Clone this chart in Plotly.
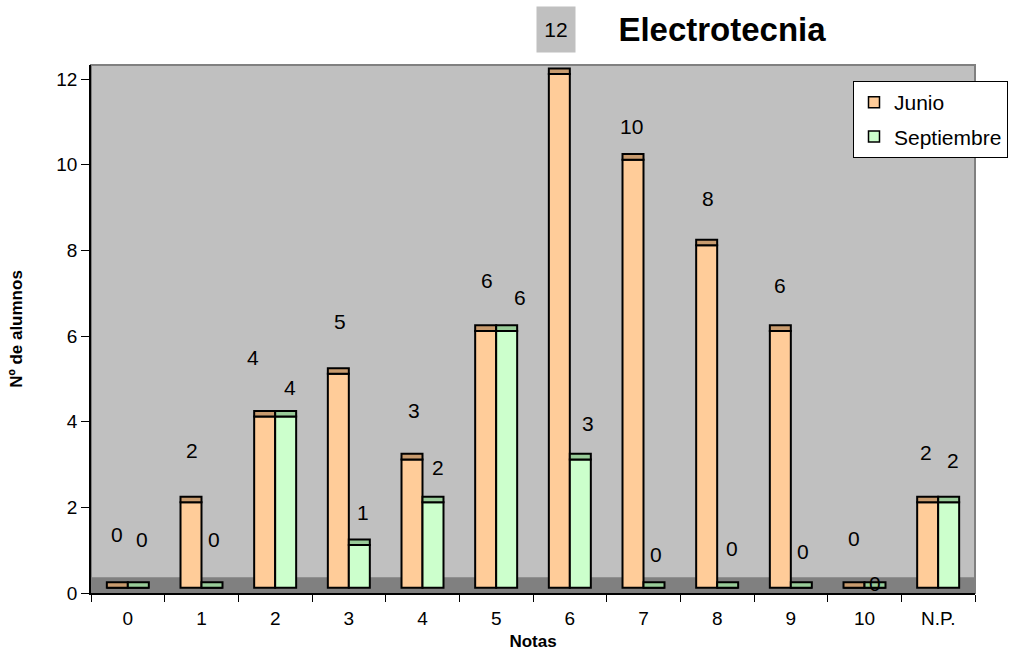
import plotly.graph_objects as go

# ---------------- data ----------------
categories = ["0", "1", "2", "3", "4", "5", "6", "7", "8", "9", "10", "N.P."]
junio = [0, 2, 4, 5, 3, 6, 12, 10, 8, 6, 0, 2]
septiembre = [0, 0, 4, 1, 2, 6, 3, 0, 0, 0, 0, 2]
y_ticks = [0, 2, 4, 6, 8, 10, 12]

# ---------------- styling ----------------
FLOOR = 0.12      # 3D floor lift of bar bases
CAP = 0.13        # thickness of darker bar top
BAR_W = 0.285
FONT = "Liberation Sans, Arial, sans-serif"
Y_TOP = 12.33

# label placement (offset above value, in axis units / pixel shift)
junio_dy = [1.36, 1.32, 1.51, 1.33, 1.27, 1.30, 1.15, 0.90, 1.22, 1.19, 1.28, 1.27]
junio_dx = [-11, -10, -22, -9, -9, -9, -14, -12, -9, -11, -11, -12]
sept_dy = [1.24, 1.24, 0.81, 0.89, 0.92, 0.89, 0.97, 0.89, 1.03, 0.98, 0.23, 1.10]
sept_dx = [14, 12, 15, 14, 15, 24, 18, 12, 15, 12, 10, 15]

series = [
    ("Junio", junio, -BAR_W, "#FFCC99", "#C89B6E", junio_dy, junio_dx),
    ("Septiembre", septiembre, 0.0, "#CCFFCC", "#99CC99", sept_dy, sept_dx),
]

fig = go.Figure()

for name, vals, off, body_c, cap_c, dys, dxs in series:
    fig.add_trace(go.Bar(
        x=categories, y=vals, base=FLOOR, offset=off, width=BAR_W, name=name,
        marker=dict(color=body_c, line=dict(color="black", width=2)),
        showlegend=False,
    ))
    fig.add_trace(go.Bar(
        x=categories, y=[CAP] * len(vals), base=[v + FLOOR for v in vals],
        offset=off, width=BAR_W, name=name,
        marker=dict(color=cap_c, line=dict(color="black", width=2)),
        showlegend=False, hoverinfo="skip",
    ))

# legend-only entries
for name, vals, off, body_c, cap_c, dys, dxs in series:
    fig.add_trace(go.Scatter(
        x=[None], y=[None], mode="markers", name=name, legendgroup=name,
        marker=dict(symbol="square", size=11, color=body_c,
                    line=dict(color="black", width=1.5)),
    ))

# data labels
for name, vals, off, body_c, cap_c, dys, dxs in series:
    for cat, v, dy, dx in zip(categories, vals, dys, dxs):
        if v + dy > Y_TOP:
            # label pushed above the wall, drawn in a grey box
            fig.add_annotation(
                x=cat, y=1 + (v + dy - Y_TOP) / Y_TOP * 0.55 + 0.03, yref="paper",
                yanchor="middle", text=str(v), xshift=dx, showarrow=False,
                font=dict(family=FONT, size=21, color="black"),
                bgcolor="#C0C0C0", width=36, height=43,
            )
        else:
            fig.add_annotation(
                x=cat, y=v + dy, text=str(v), xshift=dx, showarrow=False,
                font=dict(family=FONT, size=21, color="black"),
            )

# floor band and wall border
fig.add_shape(type="rect", xref="paper", x0=0, x1=1, yref="y", y0=0, y1=0.37,
              fillcolor="#808080", line=dict(width=0), layer="below")
fig.add_shape(type="rect", xref="paper", x0=0, x1=1, yref="paper", y0=0, y1=1,
              fillcolor="rgba(0,0,0,0)", line=dict(color="#808080", width=2),
              layer="below")

fig.update_layout(
    width=1010, height=655,
    margin=dict(l=91, r=35, t=65, b=62, autoexpand=False),
    paper_bgcolor="white", plot_bgcolor="#C0C0C0",
    barmode="overlay",
    font=dict(family=FONT, size=19, color="black"),
    title=dict(text="Electrotecnia", x=722 / 1010, xanchor="center",
               y=1 - 29 / 655, yanchor="middle", xref="container", yref="container",
               font=dict(family=FONT, size=33, color="black", weight="bold")),
    legend=dict(x=(853 - 91) / 884, y=(593 - 81) / 528, xanchor="left", yanchor="top",
                bgcolor="white", bordercolor="black", borderwidth=1,
                font=dict(family=FONT, size=21), tracegroupgap=4),
    xaxis=dict(
        type="category", range=[-0.5, 11.5], tickson="boundaries",
        ticks="outside", ticklen=7, tickcolor="black", tickwidth=1,
        showline=True, linecolor="black", linewidth=1.5, showgrid=False,
        tickfont=dict(size=19), automargin=False, ticklabelstandoff=7,
        title=dict(text="Notas", font=dict(size=17, weight="bold"), standoff=8),
    ),
    yaxis=dict(
        range=[0, Y_TOP], tickvals=y_ticks, ticks="outside", ticklen=8,
        tickcolor="black", tickwidth=1, showline=True, linecolor="black",
        linewidth=1.5, showgrid=False, zeroline=False, tickfont=dict(size=19),
        automargin=False,
        title=dict(text="Nº de alumnos", font=dict(size=17, weight="bold"), standoff=29),
    ),
)

fig.write_html("out.html", config={"displayModeBar": False},
               post_script="document.body.style.margin='0';")
